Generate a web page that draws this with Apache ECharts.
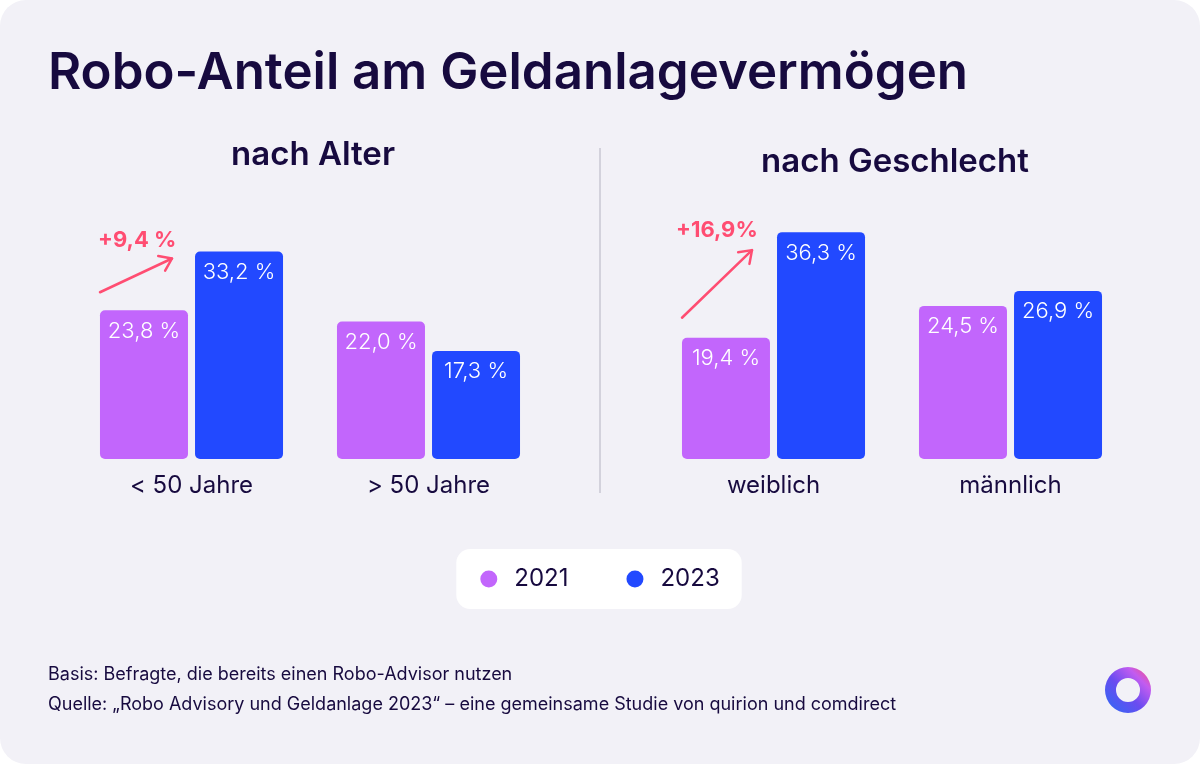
<!DOCTYPE html>
<html>
<head>
<meta charset="utf-8">
<script src="https://cdn.jsdelivr.net/npm/echarts@6/dist/echarts.min.js"></script>
<style>
html,body{margin:0;padding:0;background:#ffffff;}
#chart{width:1200px;height:764px;}
</style>
</head>
<body>
<div id="chart"></div>
<script>
// ---- data ----
const ageCategories = ['< 50 Jahre', '> 50 Jahre'];
const age2021 = [23.8, 22.0];
const age2023 = [33.2, 17.3];
const genderCategories = ['weiblich', 'männlich'];
const gender2021 = [19.4, 24.5];
const gender2023 = [36.3, 26.9];
const seriesNames = ['2021', '2023'];
const deltaAge = '+9,4 %';
const deltaGender = '+16,9%';

const PURPLE = '#c266fc';
const BLUE = '#2249ff';
const DARK = '#170a3f';
const PINK = '#ff4d72';
const FONT = 'Inter, "Noto Sans", sans-serif';

const chart = echarts.init(document.getElementById('chart'));

function fmt(v){ return v.toFixed(1).replace('.', ',') + ' %'; }

function barSeries(name, data, idx, color){
  return {
    name: name, type: 'bar', xAxisIndex: idx, yAxisIndex: idx,
    data: data, barWidth: 88, barGap: '8%',
    itemStyle: {color: color, borderRadius: 5},
    label: {
      show: true, position: 'insideTop', distance: 10,
      color: '#ffffff', fontSize: 22, fontFamily: FONT, fontWeight: 300,
      formatter: p => fmt(p.value)
    },
    emphasis: {disabled: true}
  };
}

function xAxis(cats, idx){
  return {
    type: 'category', gridIndex: idx, data: cats,
    axisLine: {show: false}, axisTick: {show: false},
    axisLabel: {color: DARK, fontSize: 24, fontFamily: FONT, margin: 15}
  };
}
function yAxis(idx){
  return {type: 'value', gridIndex: idx, min: 0, max: 40, show: false, splitLine: {show: false}};
}

const option = {
  animation: false,
  backgroundColor: 'transparent',
  textStyle: {fontFamily: FONT},
  title: [
    {text: 'Robo-Anteil am Geldanlagevermögen', left: 43, top: 43,
     textStyle: {color: DARK, fontSize: 51, fontWeight: 600, fontFamily: FONT}},
    {text: 'nach Alter', left: 308, top: 134, textAlign: 'center',
     textStyle: {color: DARK, fontSize: 33, fontWeight: 600, fontFamily: FONT}},
    {text: 'nach Geschlecht', left: 890, top: 141, textAlign: 'center',
     textStyle: {color: DARK, fontSize: 33, fontWeight: 600, fontFamily: FONT}}
  ],
  legend: {
    data: seriesNames.map((n, i) => ({name: n, itemStyle: {color: i ? BLUE : PURPLE}})),
    left: 'center', top: 549,
    icon: 'circle', itemWidth: 17, itemHeight: 17, itemGap: 58,
    backgroundColor: '#ffffff', borderRadius: 14,
    padding: [18, 22, 18, 24],
    textStyle: {color: DARK, fontSize: 24, fontFamily: FONT, padding: [0, 0, 0, 12]},
    selectedMode: false
  },
  grid: [
    {left: 73, width: 474, top: 209, height: 250},
    {left: 655, width: 474, top: 209, height: 250}
  ],
  xAxis: [xAxis(ageCategories, 0), xAxis(genderCategories, 1)],
  yAxis: [yAxis(0), yAxis(1)],
  series: [
    barSeries(seriesNames[0], age2021, 0, PURPLE),
    barSeries(seriesNames[1], age2023, 0, BLUE),
    barSeries(seriesNames[0], gender2021, 1, PURPLE),
    barSeries(seriesNames[1], gender2023, 1, BLUE)
  ]
};
chart.setOption(option);

// ---- annotations computed from the axes ----
function barLeftTop(gridIdx, catIdx, value, which){
  const p = chart.convertToPixel({xAxisIndex: gridIdx, yAxisIndex: gridIdx}, [catIdx, value]);
  const x = which === 0 ? p[0] - 91.5 : p[0] + 3.5;
  return [x, p[1]];
}
function arrow(start, end){
  const ang = Math.atan2(end[1] - start[1], end[0] - start[0]);
  const L = 14, a = 0.62;
  const h1 = [end[0] - L * Math.cos(ang - a), end[1] - L * Math.sin(ang - a)];
  const h2 = [end[0] - L * Math.cos(ang + a), end[1] - L * Math.sin(ang + a)];
  return [
    {type: 'line', shape: {x1: start[0], y1: start[1], x2: end[0], y2: end[1]},
     style: {stroke: PINK, lineWidth: 2.5, lineCap: 'round'}},
    {type: 'polyline', shape: {points: [h1, end, h2]},
     style: {stroke: PINK, lineWidth: 2.5, fill: null, lineCap: 'round', lineJoin: 'round'}}
  ];
}

const a1 = barLeftTop(0, 0, age2021[0], 0);
const a2 = barLeftTop(0, 0, age2023[0], 1);
const g1 = barLeftTop(1, 0, gender2021[0], 0);
const g2 = barLeftTop(1, 0, gender2023[0], 1);

const graphics = [
  {type: 'rect', z: -10, silent: true,
   shape: {x: 0, y: 0, width: 1200, height: 764, r: 26},
   style: {fill: '#f2f1f7'}},
  {type: 'line', shape: {x1: 600, y1: 148, x2: 600, y2: 493},
   style: {stroke: '#d3d2dc', lineWidth: 2}},
  ...arrow([a1[0], a1[1] - 18], [a2[0] - 23, a2[1] + 7]),
  ...arrow([g1[0], g1[1] - 20], [g2[0] - 25, g2[1] + 18]),
  {type: 'text', style: {text: deltaAge, x: a1[0] - 2, y: 240, fill: PINK,
   font: 'bold 22px ' + FONT, textVerticalAlign: 'middle'}},
  {type: 'text', style: {text: deltaGender, x: g1[0] - 6, y: 230, fill: PINK,
   font: 'bold 22px ' + FONT, textVerticalAlign: 'middle'}},
  {type: 'text', style: {text: 'Basis: Befragte, die bereits einen Robo-Advisor nutzen',
   x: 48, y: 675, fill: DARK, font: '18px ' + FONT, textVerticalAlign: 'middle'}},
  {type: 'text', style: {text: 'Quelle: \u201eRobo Advisory und Geldanlage 2023\u201c \u2013 eine gemeinsame Studie von quirion und comdirect',
   x: 48, y: 705, fill: DARK, font: '18px ' + FONT, textVerticalAlign: 'middle'}},
  {type: 'ring', shape: {cx: 1128, cy: 690, r: 23, r0: 12},
   style: {fill: new echarts.graphic.LinearGradient(0, 1, 1, 0, [
     {offset: 0, color: '#2a6cf5'}, {offset: 0.45, color: '#6a4cf0'},
     {offset: 0.75, color: '#c25cf0'}, {offset: 1, color: '#ff4d72'}])}}
];
chart.setOption({graphic: graphics});
</script>
</body>
</html>
